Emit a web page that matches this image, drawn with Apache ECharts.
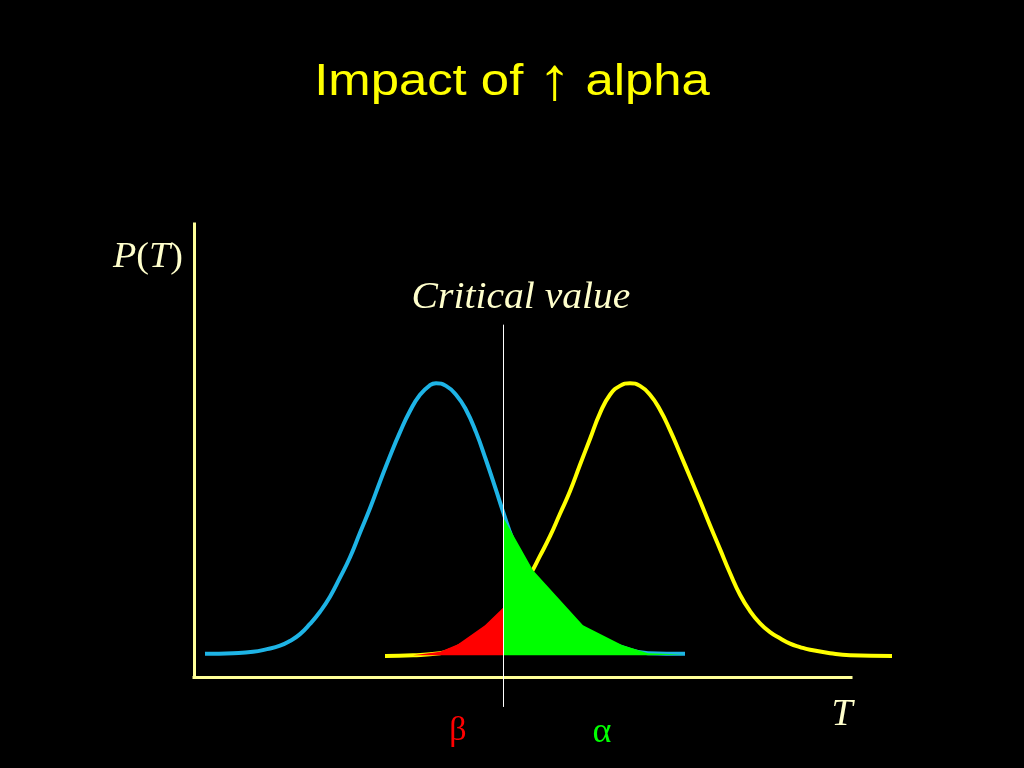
<!DOCTYPE html>
<html><head><meta charset="utf-8">
<script src="https://cdn.jsdelivr.net/npm/echarts@6/dist/echarts.min.js"></script>
<style>html,body{margin:0;padding:0;background:#000;}#c{width:1024px;height:768px;}</style>
</head><body><div id="c"></div>
<script>
// Null distribution (blue)
const blueT = [-3.816, -3.347, -3.012, -2.778, -2.560, -2.393, -2.225, -2.058, -1.890, -1.723, -1.556, -1.388, -1.221, -1.053, -0.886, -0.718, -0.551, -0.384, -0.216, -0.049, 0.052, 0.219, 0.387, 0.554, 0.722, 0.889, 1.056, 1.174, 1.341, 1.508, 1.709, 1.961, 2.212, 2.513, 2.798, 3.166, 3.601, 4.221];
const blueP = [0.002, 0.003, 0.005, 0.009, 0.014, 0.021, 0.031, 0.046, 0.064, 0.086, 0.114, 0.144, 0.180, 0.216, 0.255, 0.293, 0.328, 0.359, 0.383, 0.397, 0.400, 0.396, 0.383, 0.361, 0.328, 0.287, 0.243, 0.211, 0.169, 0.137, 0.111, 0.081, 0.061, 0.040, 0.025, 0.012, 0.003, 0.002];
// Alternative distribution (yellow)
const yellowT = [-0.802, -0.333, 0.119, 0.286, 0.454, 0.621, 0.789, 0.956, 1.123, 1.291, 1.458, 1.626, 1.793, 1.961, 2.128, 2.295, 2.463, 2.630, 2.798, 2.965, 3.132, 3.300, 3.467, 3.635, 3.802, 3.970, 4.137, 4.305, 4.472, 4.639, 4.807, 4.974, 5.142, 5.309, 5.477, 5.644, 5.811, 5.979, 6.146, 6.314, 6.649, 6.983, 7.687];
const yellowP = [-0.001, 0.000, 0.003, 0.007, 0.014, 0.022, 0.033, 0.044, 0.059, 0.075, 0.094, 0.118, 0.146, 0.175, 0.208, 0.241, 0.280, 0.318, 0.356, 0.383, 0.396, 0.400, 0.396, 0.383, 0.361, 0.331, 0.297, 0.262, 0.227, 0.191, 0.156, 0.121, 0.089, 0.065, 0.047, 0.034, 0.025, 0.017, 0.012, 0.008, 0.003, 0.000, -0.001];
// beta region (red)
const betaT = [-0.333, 0.119, 0.420, 0.872, 1.180];
const betaP = [0.000, 0.005, 0.016, 0.044, 0.070];
// alpha region (green)
const alphaT = [1.180, 1.458, 1.676, 2.513, 3.166, 3.601, 4.204];
const alphaP = [0.202, 0.159, 0.125, 0.044, 0.015, 0.003, 0.001];
// critical value line
const critT = 1.182;
const critP = [0.486, -0.076];

const zip = (a, b) => a.map((v, i) => [v, b[i]]);
const axisCol = '#FFFF99';
const cream = '#FFFFCC';
const hidden = {show: false};
const chart = echarts.init(document.getElementById('c'));
chart.setOption({
  backgroundColor: '#000000',
  animation: false,
  grid: [
    {left: 194, top: 224, width: 698.8, height: 453},
    {left: 194, top: 224, width: 657, height: 453}
  ],
  xAxis: [
    {gridIndex: 0, type: 'value', min: -4, max: 7.7, show: false},
    {gridIndex: 1, type: 'value', min: -4, max: 7,
      axisLine: {show: true, onZero: false, lineStyle: {color: axisCol, width: 3, cap: 'square'}},
      axisTick: hidden, axisLabel: hidden, splitLine: hidden}
  ],
  yAxis: [
    {gridIndex: 0, type: 'value', min: -0.032, max: 0.634, show: false},
    {gridIndex: 1, type: 'value', min: -0.032, max: 0.634,
      axisLine: {show: true, onZero: false, lineStyle: {color: axisCol, width: 3, cap: 'square'}},
      axisTick: hidden, axisLabel: hidden, splitLine: hidden}
  ],
  series: [
    {type: 'line', data: zip(blueT, blueP), symbol: 'none', smooth: 0.5, z: 2,
      lineStyle: {color: '#1EB4E6', width: 4}},
    {type: 'line', data: zip(yellowT, yellowP), symbol: 'none', smooth: 0.5, z: 2,
      lineStyle: {color: '#FFFF00', width: 4}},
    {type: 'line', data: zip(betaT, betaP), symbol: 'none', z: 3,
      lineStyle: {width: 0}, areaStyle: {color: '#FF0000', opacity: 1}},
    {type: 'line', data: zip(alphaT, alphaP), symbol: 'none', z: 3,
      lineStyle: {width: 0}, areaStyle: {color: '#00FF00', opacity: 1}},
    {type: 'line', data: critP.map(p => [critT, p]), symbol: 'none', z: 4, clip: false,
      lineStyle: {color: '#FFFFFF', width: 1}}
  ],
  graphic: [
    {type: 'text', x: 512, y: 83, scaleX: 1.13, style: {text: 'Impact of {a|\u2191} alpha', font: '45px "Liberation Sans", Arial, sans-serif',
      fill: '#FFFF00', align: 'center', verticalAlign: 'middle',
      rich: {a: {fontSize: 60, fontFamily: '"Liberation Serif", serif', fill: '#FFFF00'}}}},
    {type: 'text', x: 113, y: 258, scaleX: 1.06, style: {text: '{i|P}({i|T})', font: '36px "Liberation Serif", serif',
      fill: cream, align: 'left', verticalAlign: 'middle',
      rich: {i: {fontStyle: 'italic', fontSize: 36, fontFamily: '"Liberation Serif", serif', fill: cream}}}},
    {type: 'text', x: 521, y: 298, scaleX: 1.07, style: {text: 'Critical value', font: 'italic 37px "Liberation Serif", serif',
      fill: cream, align: 'center', verticalAlign: 'middle'}},
    {type: 'text', x: 458, y: 731, style: {text: '\u03B2', font: '34px "Liberation Serif", serif',
      fill: '#FF0000', align: 'center', verticalAlign: 'middle'}},
    {type: 'text', x: 602, y: 733, style: {text: '\u03B1', font: '36px "Liberation Serif", serif',
      fill: '#00FF00', align: 'center', verticalAlign: 'middle'}},
    {type: 'text', x: 842, y: 715, style: {text: 'T', font: 'italic 38px "Liberation Serif", serif',
      fill: cream, align: 'center', verticalAlign: 'middle'}}
  ]
});
</script></body></html>
